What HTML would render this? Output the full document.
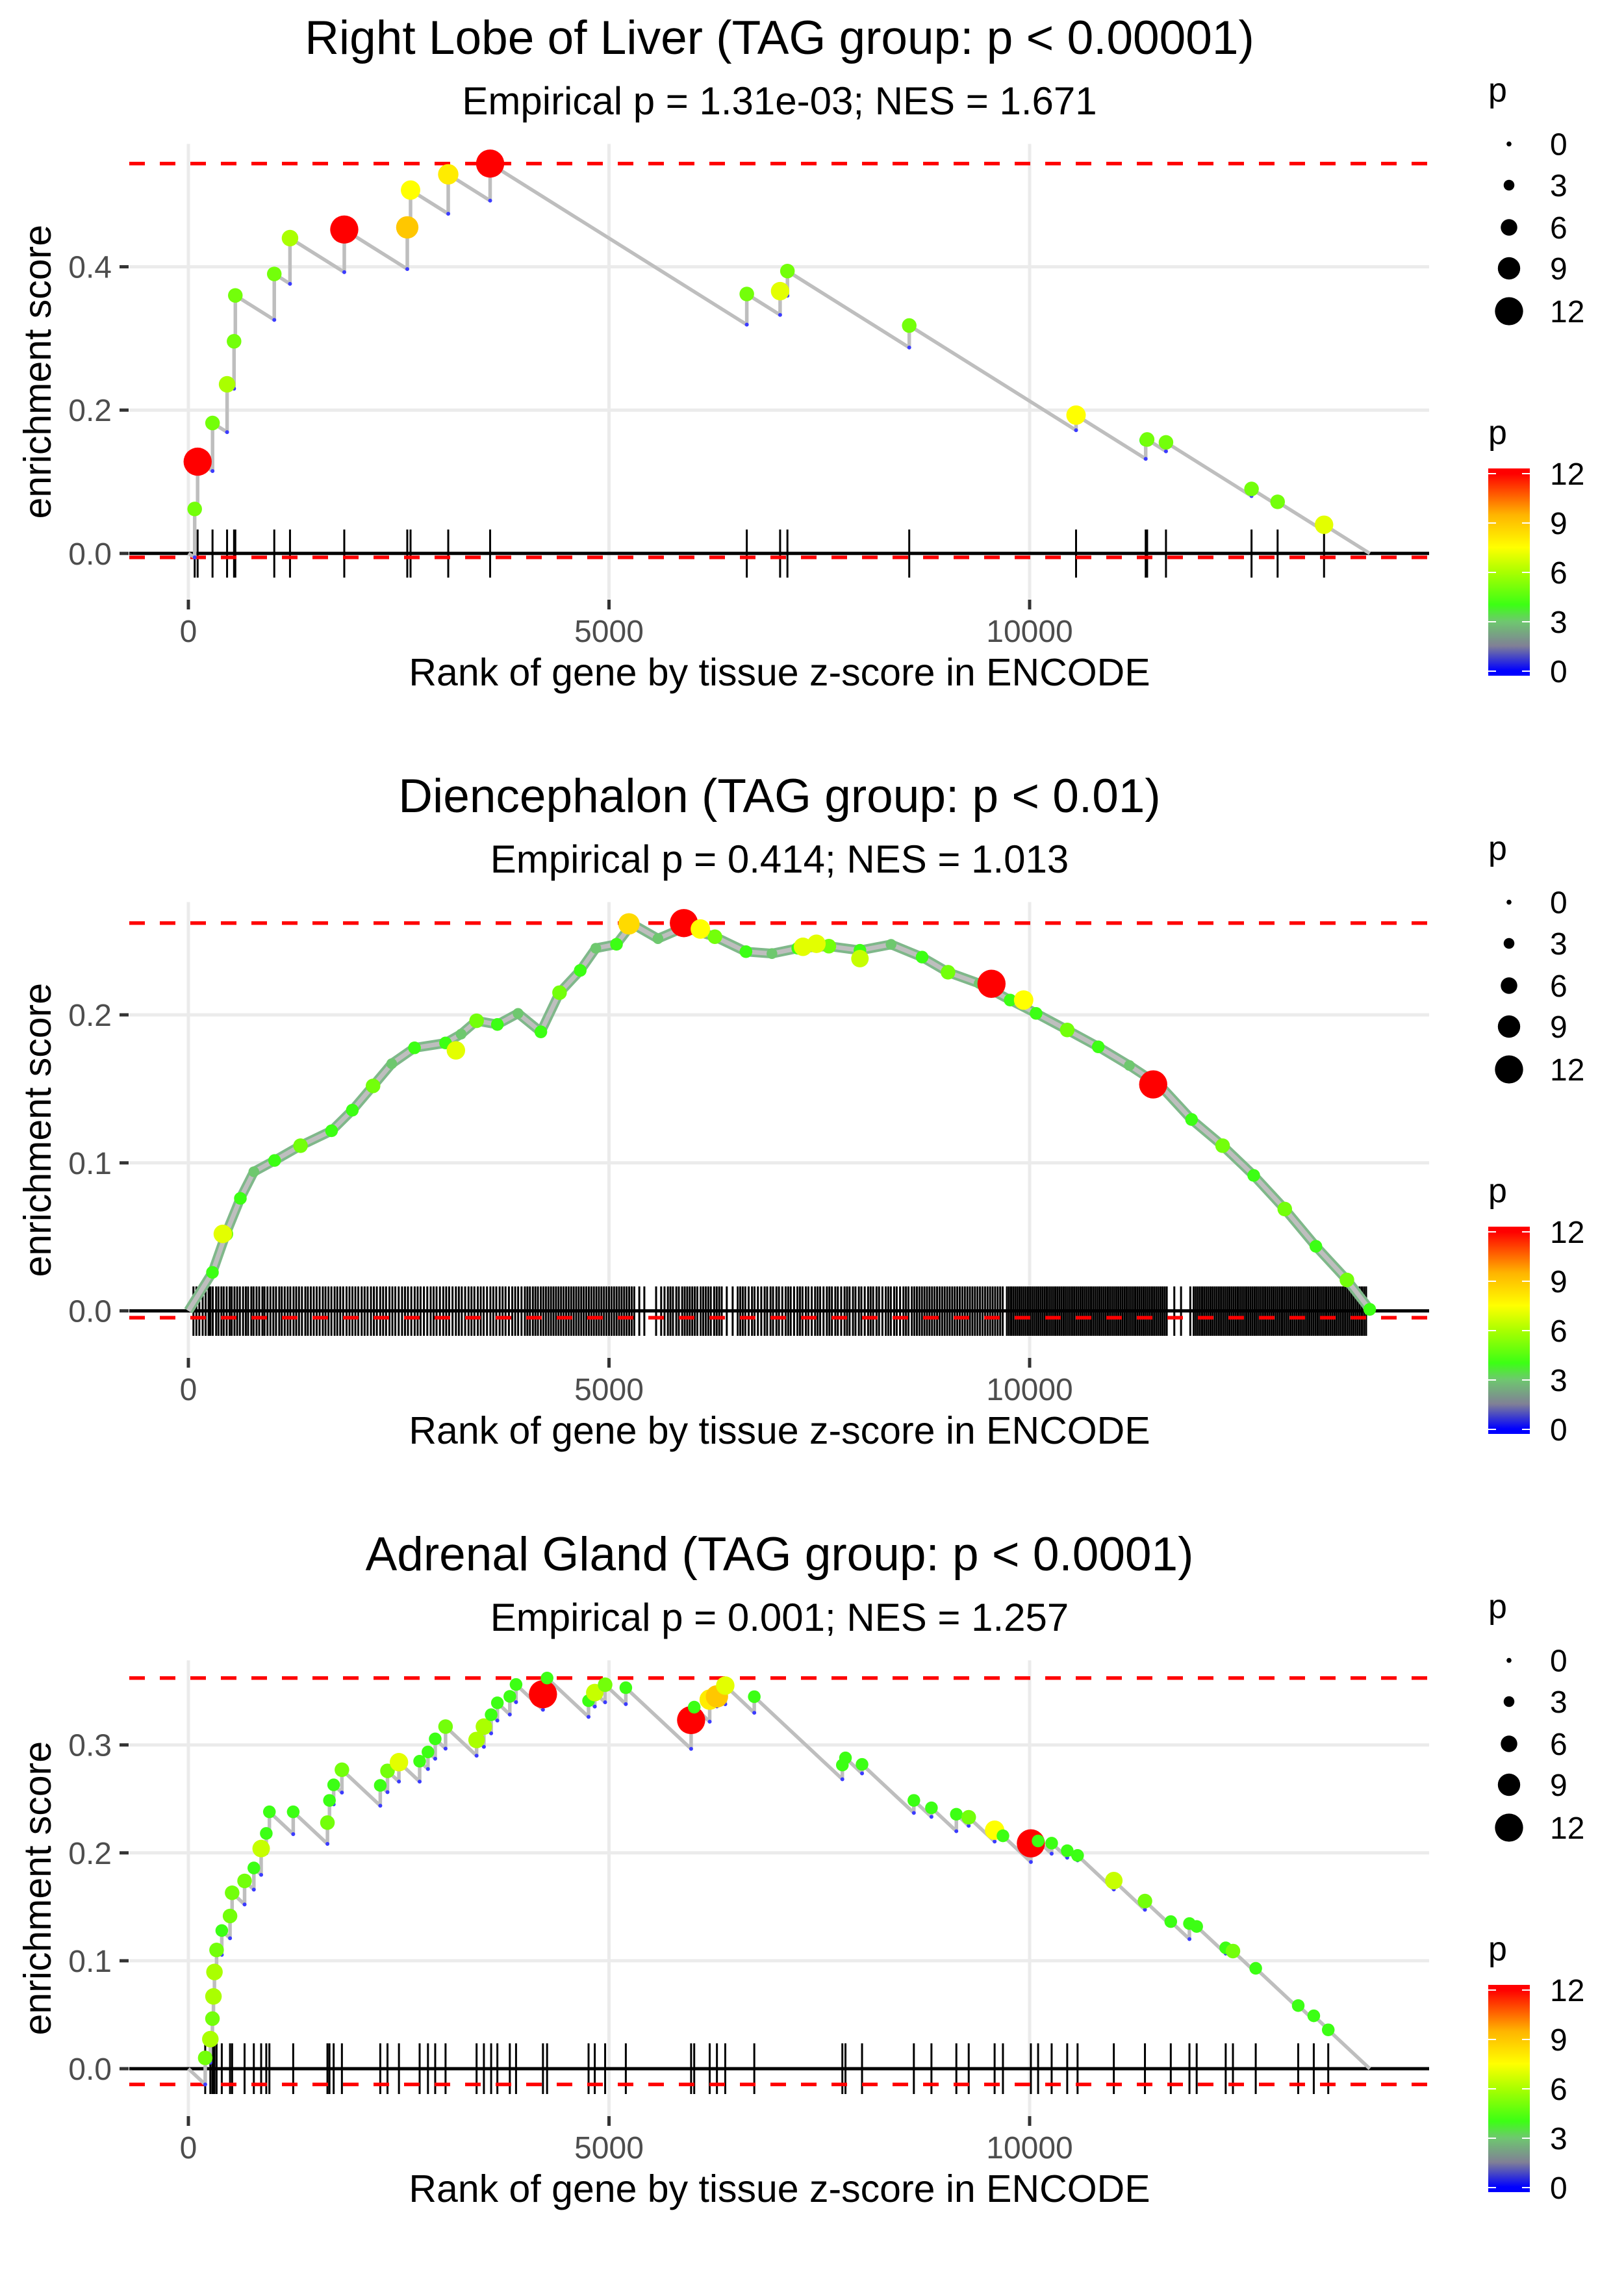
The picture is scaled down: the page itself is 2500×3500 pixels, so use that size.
<!DOCTYPE html>
<html><head><meta charset="utf-8"><style>
html,body{margin:0;padding:0;background:#fff}
svg{display:block}
text{font-family:"Liberation Sans",sans-serif}
</style></head><body>
<svg id="chart" width="2500" height="3500" viewBox="0 0 2500 3500" xmlns="http://www.w3.org/2000/svg"></svg>
<script>
// ---- Panel 1: Right Lobe of Liver ----
const p1Ranks=[75,110,287,460,543,558,1021,1208,1853,2602,2641,3089,3587,6638,7034,7121,8569,10552,11380,11397,11621,12638,12948,13500];
const p1ES=[0.062,0.128,0.182,0.236,0.296,0.360,0.390,0.440,0.452,0.455,0.507,0.529,0.544,0.362,0.366,0.394,0.318,0.193,0.158,0.159,0.155,0.090,0.072,0.040];
const p1P=[5,12,5,6,5,5,5,6,12,9,7.5,8,12,5,7,5,5,7.5,4,5,5,5,5,7];
// ---- Panel 2: Diencephalon ----
const p2CurveRanks=[0,286,446,618,778,1025,1333,1702,1949,2195,2417,2688,3057,3242,3426,3673,3919,4190,4412,4658,4843,5089,5274,5582,5890,6259,6628,6937,7244,7614,7983,8353,8722,9030,9400,9769,10077,10447,10816,11186,11555,11925,12294,12664,13033,13403,13772,14043];
const p2CurveES=[0,0.026,0.052,0.076,0.094,0.1016,0.1116,0.1217,0.1356,0.152,0.167,0.1777,0.181,0.187,0.196,0.1935,0.201,0.1885,0.215,0.230,0.245,0.2477,0.2615,0.2515,0.259,0.2528,0.2427,0.2414,0.245,0.2464,0.2436,0.2476,0.239,0.2288,0.2212,0.210,0.201,0.1898,0.1784,0.1658,0.152,0.1293,0.1116,0.0915,0.0688,0.0436,0.0209,0.001];
const p2CurveP=[0,4,5,4,3,4,5,4,4,5,3,4,4,3,5,4,3,4,5,4,3,4,4,3,4,5,4,3,4,5,4,3,4,5,3,4,4,5,4,3,4,4,5,4,5,4,5,4];
const p2HitRanks=[409,3180,5237,5890,6086,7306,7466,7983,9547,9929,11469];
const p2HitES=[0.052,0.176,0.2615,0.262,0.258,0.246,0.248,0.238,0.221,0.210,0.153];
const p2HitP=[7,7,8.5,12,7.5,7,7,6.5,12,7.5,12];
const p2Rugs=[60,95,130,170,205,240,262,290,330,358,392,420,455,490,515,548,580,612,650,683,710,748,775,810,842,880,905,940,975,1010,1042,1080,1110,1145,1180,1212,1250,1282,1315,1350,1390,1420,1455,1490,1525,1560,1598,1630,1665,1700,1738,1770,1805,1840,1880,1915,1950,1985,2020,2060,2095,2130,2170,2205,2240,2280,2315,2350,2390,2425,2460,2500,2540,2575,2610,2650,2690,2725,2760,2800,2840,2880,2915,2950,2990,3030,3065,3100,3140,3180,3215,3250,3290,3330,3365,3400,3440,3475,3510,3550,3590,3625,3660,3700,3735,3770,3810,3850,3885,3920,3960,4000,4030,4060,4095,4125,4155,4190,4220,4250,4280,4310,4340,4370,4400,4430,4460,4490,4520,4550,4580,4610,4640,4670,4700,4730,4760,4790,4820,4850,4880,4910,4940,4970,5000,5030,5060,5090,5120,5150,5180,5210,5240,5270,5300,5360,5420,5560,5620,5660,5700,5730,5760,5800,5830,5870,5900,5930,5960,5990,6020,6050,6090,6120,6150,6180,6210,6250,6280,6310,6340,6400,6470,6530,6560,6590,6620,6660,6700,6730,6770,6810,6850,6880,6920,6950,6990,7020,7060,7100,7130,7160,7200,7240,7270,7300,7340,7370,7410,7450,7480,7510,7550,7590,7620,7650,7690,7720,7760,7800,7830,7860,7900,7930,7970,8000,8040,8080,8110,8140,8180,8210,8250,8290,8320,8350,8390,8420,8460,8500,8530,8560,8600,8630,8660,8690,8720,8750,8780,8810,8840,8870,8900,8930,8960,8990,9020,9050,9080,9110,9140,9170,9200,9230,9260,9290,9320,9350,9380,9410,9440,9470,9500,9530,9560,9590,9620,9650,9680,9730,9755,9780,9805,9830,9855,9880,9905,9930,9955,9980,10005,10030,10055,10080,10105,10130,10155,10180,10205,10230,10255,10280,10305,10330,10355,10380,10405,10430,10455,10480,10505,10530,10555,10580,10605,10630,10655,10680,10705,10730,10755,10780,10805,10830,10855,10880,10905,10930,10955,10980,11005,11030,11055,11080,11105,11130,11155,11180,11205,11230,11255,11280,11305,11330,11355,11380,11405,11430,11455,11480,11505,11530,11555,11580,11605,11630,11720,11800,11910,11950,11975,12000,12025,12050,12075,12100,12125,12150,12175,12200,12225,12250,12275,12300,12325,12350,12375,12400,12425,12450,12475,12500,12525,12550,12575,12600,12625,12650,12675,12700,12725,12750,12775,12800,12825,12850,12875,12900,12925,12950,12975,13000,13025,13050,13075,13100,13125,13150,13175,13200,13225,13250,13275,13300,13325,13350,13375,13400,13425,13450,13475,13500,13525,13550,13575,13600,13625,13650,13675,13700,13725,13750,13775,13800,13825,13850,13875,13900,13925,13950,13975,14000];
// ---- Panel 3: Adrenal Gland ----
const p3Ranks=[200,261,286,298,310,335,397,495,520,668,778,865,926,963,1246,1653,1677,1727,1825,2281,2367,2503,2749,2848,2934,3057,3426,3513,3599,3673,3821,3895,4215,4264,4757,4831,4954,5200,5976,6013,6197,6283,6382,6727,7774,7811,8008,8624,8833,9129,9276,9584,9683,10015,10101,10262,10447,10570,11001,11371,11678,11900,11986,12331,12417,12688,13193,13378,13550];
const p3ES=[0.010,0.0274,0.0464,0.067,0.0896,0.110,0.128,0.1415,0.163,0.174,0.186,0.204,0.218,0.238,0.238,0.228,0.2486,0.263,0.277,0.2625,0.276,0.284,0.2849,0.2935,0.3056,0.317,0.3046,0.317,0.328,0.339,0.345,0.356,0.347,0.362,0.341,0.3485,0.3558,0.353,0.323,0.335,0.342,0.345,0.355,0.3447,0.2814,0.288,0.282,0.2486,0.2417,0.2358,0.233,0.221,0.2158,0.2088,0.211,0.209,0.202,0.1976,0.1743,0.1553,0.1363,0.1345,0.1318,0.112,0.109,0.093,0.0585,0.049,0.036];
const p3P=[5,6,5,6,6,5,4,5,5,5,4,6.5,4,4,4,5,4,4,5,4,5,7,4,4,4,5,6,6,4,4,4,4,12,4,4,6.5,5,4,12,4,8,9,7,4,4,4,4,4,4,4,5,7.5,4,12,4,4,4,4,6.5,5,4,4,4,4,5,4,4,4,4];
const xTicks=[0,5000,10000];
const p1YTicks=[0,0.2,0.4], p2YTicks=[0,0.1,0.2], p3YTicks=[0,0.1,0.2,0.3];
const legendSizes=[0,3,6,9,12];
const titles=["Right Lobe of Liver (TAG group: p < 0.00001)","Diencephalon (TAG group: p < 0.01)","Adrenal Gland (TAG group: p < 0.0001)"];
const subtitles=["Empirical p = 1.31e-03; NES = 1.671","Empirical p = 0.414; NES = 1.013","Empirical p = 0.001; NES = 1.257"];
const NGENES=14043;

const NS="http://www.w3.org/2000/svg";
const svg=document.getElementById('chart');
function mk(tag,attrs,parent){const e=document.createElementNS(NS,tag);for(const k in attrs)e.setAttribute(k,attrs[k]);(parent||svg).appendChild(e);return e;}
const xS=r=>290+r*0.1295;
const PL=199,PR=2200;
const stops=[[0,[0,0,255]],[1.5,[128,128,150]],[3,[110,200,110]],[4,[60,255,20]],[6,[170,255,0]],[7.5,[255,255,0]],[9.5,[255,180,0]],[12,[255,0,0]]];
function pcol(p){p=Math.max(0,Math.min(12,p));for(let i=1;i<stops.length;i++){if(p<=stops[i][0]){const a=stops[i-1],b=stops[i],t=(p-a[0])/(b[0]-a[0]);const c=a[1].map((v,j)=>Math.round(v+(b[1][j]-v)*t));return `rgb(${c[0]},${c[1]},${c[2]})`;}}return 'red';}
const rad=p=>3.8+1.49*p;

function panel(idx,cfg){
  const dy=idx*1167;
  const g=mk('g',{});
  
  
  const top=221.5+dy,bot=923+dy;
  const yS=v=>cfg.y0+dy-v*cfg.k;
  for(const t of xTicks){const l=mk('line',{x1:xS(t),x2:xS(t),y1:top,y2:bot,stroke:'#ebebeb','stroke-width':5},g);}
  for(const t of cfg.yTicks){const l=mk('line',{x1:PL,x2:PR,y1:yS(t),y2:yS(t),stroke:'#ebebeb','stroke-width':5},g);}
  for(const r of cfg.rugs){const l=mk('line',{x1:xS(r),x2:xS(r),y1:cfg.rugTop+dy,y2:cfg.rugBot+dy,stroke:'#000','stroke-width':cfg.rugW},g);}
  let z=mk('line',{x1:PL,x2:PR,y1:yS(0),y2:yS(0),stroke:'#000','stroke-width':5},g);
  
  let dmax=mk('line',{x1:PL,x2:PR,y1:yS(cfg.maxES),y2:yS(cfg.maxES),stroke:'#ff0000','stroke-width':5.5,'stroke-dasharray':'24 23'},g);
  
  let dmin=mk('line',{x1:PL,x2:PR,y1:yS(cfg.minES),y2:yS(cfg.minES),stroke:'#ff0000','stroke-width':5.5,'stroke-dasharray':'24 23'},g);
  
  const pts=cfg.pts.map(p=>xS(p[0]).toFixed(1)+','+yS(p[1]).toFixed(1)).join(' ');
  if(cfg.thick){const u=mk('polyline',{points:pts,fill:'none',stroke:'#7fb88a','stroke-width':15,'stroke-linejoin':'round'},g);}
  const pl=mk('polyline',{points:pts,fill:'none',stroke:'#bebebe','stroke-width':cfg.thick?7:5.5,'stroke-linejoin':'round'},g);
  
  for(const b of cfg.bottoms){const c=mk('circle',{cx:xS(b[0]),cy:yS(b[1]),r:3,fill:'#3b3bff'},g);}
  for(const d of cfg.dots){const c=mk('circle',{cx:xS(d[0]),cy:yS(d[1]),r:rad(d[2]),fill:pcol(d[2])},g);}
  for(const t of cfg.yTicks){
    const tk=mk('line',{x1:184,x2:198,y1:yS(t),y2:yS(t),stroke:'#333','stroke-width':5},g);
    const tx=mk('text',{x:172,y:yS(t)+17,'text-anchor':'end','font-size':48,fill:'#4d4d4d'},g);tx.textContent=t.toFixed(1);
  }
  for(const t of xTicks){
    const tk=mk('line',{x1:xS(t),x2:xS(t),y1:bot,y2:bot+15,stroke:'#333','stroke-width':5},g);
    const tx=mk('text',{x:xS(t),y:988+dy,'text-anchor':'middle','font-size':48,fill:'#4d4d4d'},g);tx.textContent=String(t);
  }
  let xt=mk('text',{x:1200,y:1055+dy,'text-anchor':'middle','font-size':59,fill:'#000'},g);xt.textContent='Rank of gene by tissue z-score in ENCODE';
  let yt=mk('text',{x:0,y:0,'text-anchor':'middle','font-size':59,fill:'#000',transform:`translate(78,${(top+bot)/2}) rotate(-90)`},g);yt.textContent='enrichment score';
  let ti=mk('text',{x:1200,y:83+dy,'text-anchor':'middle','font-size':73,fill:'#000'},g);ti.textContent=titles[idx];
  let st=mk('text',{x:1200,y:176+dy,'text-anchor':'middle','font-size':60,fill:'#000'},g);st.textContent=subtitles[idx];
  let lt=mk('text',{x:2291,y:156+dy,'font-size':52,fill:'#000'},g);lt.textContent='p';
  const ly=[221.6,285,350,413,479];
  legendSizes.forEach((s,i)=>{
    const c=mk('circle',{cx:2323,cy:ly[i]+dy,r:rad(s),fill:'#000'},g);
    const t=mk('text',{x:2386,y:ly[i]+dy+17,'font-size':48,fill:'#000'},g);t.textContent=String(s);
  });
  let ct=mk('text',{x:2291,y:683+dy,'font-size':52,fill:'#000'},g);ct.textContent='p';
  const cb=mk('rect',{x:2291,y:721+dy,width:64,height:319,fill:'url(#cbgrad)'},g);
  [12,9,6,3,0].forEach(v=>{
    const yy=1033+dy-(v/12)*304;
    const a=mk('line',{x1:2291,x2:2303,y1:yy,y2:yy,stroke:'#fff','stroke-width':2},g);
    const b=mk('line',{x1:2343,x2:2355,y1:yy,y2:yy,stroke:'#fff','stroke-width':2},g);
    const t=mk('text',{x:2386,y:yy+17,'font-size':48,fill:'#000'},g);t.textContent=String(v);
  });
}
const defs=mk('defs',{});
const lg=mk('linearGradient',{id:'cbgrad',x1:0,y1:1,x2:0,y2:0},defs);
for(const s of stops){mk('stop',{offset:(s[0]/12*0.95+0.025).toFixed(3),'stop-color':`rgb(${s[1].join(',')})`},lg);}

function stepCurve(ranks,es,ps){
  const pts=[[0,0]],bottoms=[],dots=[];
  const decay=es[es.length-1]/(NGENES-ranks[ranks.length-1]);
  let prev=0,pr=0;
  ranks.forEach((r,i)=>{const b=prev-decay*(r-pr);pts.push([r,b],[r,es[i]]);bottoms.push([r,b]);dots.push([r,es[i],ps[i]]);prev=es[i];pr=r;});
  pts.push([NGENES,prev-decay*(NGENES-pr)]);
  return {pts,bottoms,dots,maxES:Math.max(...es),minES:Math.min(0,...bottoms.map(b=>b[1]))};
}
const c1=stepCurve(p1Ranks,p1ES,p1P);
panel(0,{y0:851.8,k:1103,yTicks:p1YTicks,rugs:p1Ranks,rugTop:815,rugBot:889,rugW:3,pts:c1.pts,bottoms:c1.bottoms,dots:c1.dots,maxES:c1.maxES,minES:c1.minES});
const c2pts=p2CurveRanks.map((r,i)=>[r,p2CurveES[i]]);
const c2dots=p2CurveRanks.map((r,i)=>[r,p2CurveES[i],p2CurveP[i]]).filter(d=>d[2]>0).concat(p2HitRanks.map((r,i)=>[r,p2HitES[i],p2HitP[i]]));
panel(1,{y0:850.6,k:2278,yTicks:p2YTicks,rugs:p2Rugs,rugTop:813,rugBot:889,rugW:3,pts:c2pts,bottoms:[],dots:c2dots,maxES:Math.max(...p2HitES,...p2CurveES),minES:-0.0046,thick:true});
const c3=stepCurve(p3Ranks,p3ES,p3P);
panel(2,{y0:850,k:1661,yTicks:p3YTicks,rugs:p3Ranks,rugTop:811,rugBot:889,rugW:3,pts:c3.pts,bottoms:c3.bottoms,dots:c3.dots,maxES:c3.maxES,minES:c3.minES});
</script>
</body></html>
